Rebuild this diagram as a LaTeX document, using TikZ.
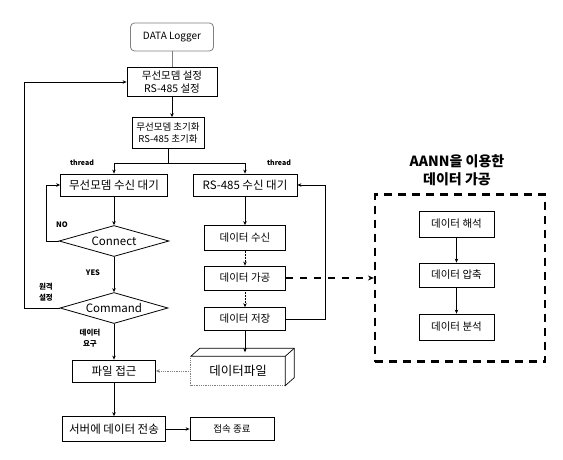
\documentclass[tikz,border=0pt]{standalone}
\usepackage{fontspec}
\newfontfamily\kr{Noto Sans CJK KR}
\usetikzlibrary{arrows.meta,positioning,shapes.geometric,calc}

\begin{document}
\begin{tikzpicture}[x=1pt,y=-1pt,font=\kr,
   fs/.style={font=\kr\fontsize{#1}{#1}\selectfont},
   fb/.style={font=\kr\bfseries\fontsize{#1}{#1}\selectfont},
   bx/.style={draw,line width=0.8pt,inner sep=1pt,align=center},
   dm/.style={draw,line width=0.8pt,shape=diamond,inner sep=0pt,aspect=3.5},
   ar/.style={-{Stealth[length=4pt,width=3.5pt]},line width=0.8pt}]
  \useasboundingbox (0,0) rectangle (563,459);
  % start and setup
  \node[bx,draw=gray,rounded corners=4pt,fs=10,minimum width=83pt,minimum height=28pt] (logger) at (172,37) {DATA Logger};
  \node[bx,fs=10.5,minimum width=90pt,minimum height=29pt,align=center] (setup) at (172,82) {무선모뎀 설정\\[2pt]RS-485 설정};
  \node[bx,fs=9.5,minimum width=72pt,minimum height=31pt,align=center] (init) at (168,133) {무선모뎀 초기화\\[3pt]RS-485 초기화};
  % modem thread
  \node[bx,fs=11.5,minimum width=107pt,minimum height=22pt] (wait1) at (114,185) {무선모뎀 수신 대기};
  \node[dm,fs=11.5,minimum width=110pt,minimum height=31pt] (conn) at (114,241) {Connect};
  \node[dm,fs=11.5,minimum width=108pt,minimum height=31pt] (cmd) at (114,308) {Command};
  \node[bx,fs=11.5,minimum width=83pt,minimum height=22pt] (file) at (114,371) {파일 접근};
  \node[bx,fs=11.5,minimum width=103pt,minimum height=25pt] (send) at (114,429) {서버에 데이터 전송};
  \node[bx,fs=9.5,minimum width=84pt,minimum height=23pt] (close) at (232,429) {접속 종료};
  % RS-485 thread
  \node[bx,fs=11.5,minimum width=104pt,minimum height=22pt] (wait2) at (245,185) {RS-485 수신 대기};
  \node[bx,fs=10.5,minimum width=81pt,minimum height=25pt] (recv) at (245,238) {데이터 수신};
  \node[bx,fs=10.5,minimum width=81pt,minimum height=24pt] (proc) at (245,278) {데이터 가공};
  \node[bx,fs=10.5,minimum width=81pt,minimum height=23pt] (save) at (245,319) {데이터 저장};
  \node[fs=12.5,minimum width=94pt,minimum height=29pt] (dfile) at (238,371) {데이터파일};
  \coordinate (ftop) at ($(dfile.north)+(4.5,-4)$);
  % AANN block
  \node[fb=14,align=center] (ttl) at (457,170) {AANN을 이용한\\[4pt]데이터 가공};
  \node[draw,line width=2.2pt,dash pattern=on 8pt off 6pt,minimum width=170pt,minimum height=167pt] (aann) at (460,278) {};
  \node[bx,fs=10.5,minimum width=75pt,minimum height=26pt] (an1) at (456.5,224) {데이터 해석};
  \node[bx,fs=10.5,minimum width=75pt,minimum height=24pt] (an2) at (456.5,275) {데이터 압축};
  \node[bx,fs=10.5,minimum width=75pt,minimum height=26pt] (an3) at (456.5,327) {데이터 분석};
  % labels
  \node[fb=7] (th1) at (82,163) {thread};
  \node[fb=7] (th2) at (279,163) {thread};
  \node[fb=7.5] (no) at (62,225) {NO};
  \node[fb=7.5] (yes) at (93,273) {YES};
  \node[fb=7.5,align=center] (rmt) at (46,292) {원격\\[3pt]설정};
  \node[fb=7.5,align=center] (req) at (90,338) {데이터\\[3pt]요구};
  % connectors
  \draw[gray,line width=0.8pt] (logger) -- (setup);
  \draw[ar] (setup) -- (setup.south |- init.north);
  \draw[line width=0.8pt] (init.south) -- (init.south |- th1) coordinate (sp);
  \draw[ar] (sp) -| (wait1.north);
  \draw[ar] (sp) -| (wait2.north);
  \draw[ar,line width=0.5pt] (wait1) -- (conn);
  \draw[ar] (conn) -- (cmd);
  \draw[ar] (cmd) -- (file);
  \draw[ar] (file) -- (send);
  \draw[ar] (send) -- (close);
  \draw[ar,line width=0.6pt] (conn.west) -- ++(-12,0) |- (wait1.west);
  \draw[ar] (cmd.west) -- ++(-35,0) |- (setup.west);
  \draw[ar] (wait2) -- (recv);
  \foreach \a/\b in {recv/proc,proc/save}
    \draw[ar,line width=0.5pt,densely dotted] (\a) -- (\b);
  \draw[ar] (save) -- (save.south |- ftop);
  \draw[ar,line width=0.6pt] (save.east) -- ++(39,0) |- (wait2.east);
  \draw[ar,gray,densely dotted] (dfile.west) -- (file.east);
  \draw[-{Stealth[length=6pt,width=5pt]},line width=1.8pt,dash pattern=on 7pt off 7pt] (proc.east) -- (aann.west);
  \foreach \a/\b in {an1/an2,an2/an3}
    \draw[ar,line width=0.6pt] (\a) -- (\b);
  % box faces
  \draw[gray,densely dotted,line width=0.8pt] (dfile.north west) -- (dfile.south west) -- (dfile.south east);
  \draw[line width=0.7pt] (dfile.north west) -- ++(9,-8) -- ($(dfile.north east)+(9,-8)$) -- ($(dfile.south east)+(9,-8)$) -- (dfile.south east) -- (dfile.north east) -- (dfile.north west);
  \draw[line width=0.7pt] (dfile.north east) -- ++(9,-8);
\end{tikzpicture}
\end{document}
